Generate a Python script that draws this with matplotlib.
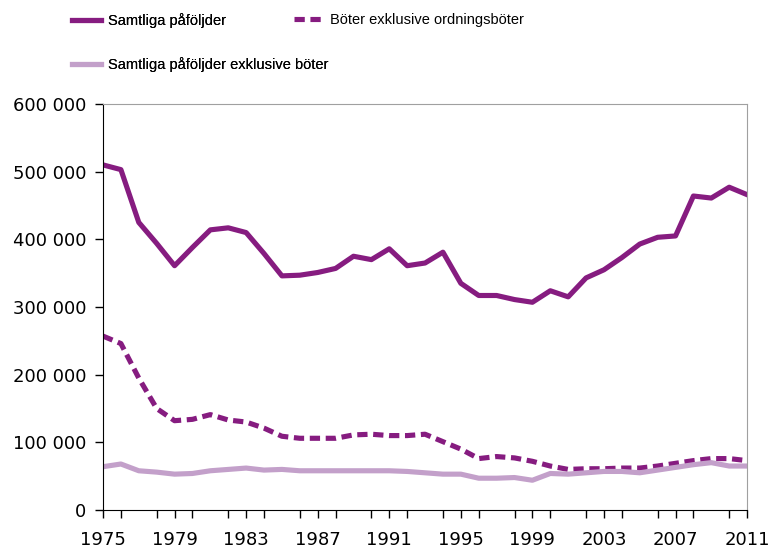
import numpy as np
import matplotlib
matplotlib.use('Agg')
import matplotlib.pyplot as plt
from matplotlib.ticker import FuncFormatter, MultipleLocator

plt.rcParams['font.family'] = ['Liberation Sans', 'DejaVu Sans']

# data
years = list(range(1975, 2012))
samtliga = [510000, 503000, 425000, 394000, 361000, 388000, 414000, 417000, 410000, 379000,
            346000, 347000, 351000, 357000, 375000, 370000, 386000, 361000, 365000, 381000,
            335000, 317000, 317000, 311000, 307000, 324000, 315000, 343000, 355000, 373000,
            393000, 403000, 405000, 464000, 461000, 477000, 466000]
boter = [257000, 246000, 195000, 150000, 132000, 134000, 141000, 133000, 130000, 121000,
         109000, 106000, 106000, 106000, 111000, 112000, 110000, 110000, 112000, 101000,
         90000, 76000, 79000, 77000, 72000, 65000, 60000, 61000, 61000, 62000,
         62000, 65000, 69000, 73000, 76000, 76000, 73000]
exkl_boter = [64000, 68000, 58000, 56000, 53000, 54000, 58000, 60000, 62000, 59000,
              60000, 58000, 58000, 58000, 58000, 58000, 58000, 57000, 55000, 53000,
              53000, 47000, 47000, 48000, 44000, 54000, 53000, 55000, 57000, 57000,
              55000, 59000, 63000, 67000, 70000, 65000, 65000]
labels = ['Samtliga påföljder', 'Böter exklusive ordningsböter',
          'Samtliga påföljder exklusive böter']

dark = '#861C80'
light = '#C3A0CA'

fig = plt.figure(figsize=(7.71, 5.49), dpi=100)
ax = fig.add_axes([0.1336, 0.071, 0.8354, 0.7396])

l1, = ax.plot(years, samtliga, color=dark, lw=3.7)
l2, = ax.plot(years, boter, color=dark, lw=3.7, ls=(0, (2, 1.1)))
l3, = ax.plot(years, exkl_boter, color=light, lw=3.7)

ax.set_xlim(1975, 2011)
ax.set_ylim(0, 600000)
ax.yaxis.set_major_locator(MultipleLocator(100000))
ax.yaxis.set_major_formatter(FuncFormatter(lambda v, p: f'{int(v):,}'.replace(',', ' ')))
ax.set_xticks(range(1975, 2012, 4))
ax.xaxis.set_minor_locator(MultipleLocator(2))
ax.tick_params(axis='both', which='major', labelsize=13, length=6, width=1, direction='out')
ax.tick_params(axis='x', which='minor', length=6, width=1, direction='out')
ax.tick_params(axis='x', pad=9)
ax.tick_params(axis='y', pad=6)
for lab in ax.get_xticklabels() + ax.get_yticklabels():
    lab.set_family('DejaVu Sans')

for s in ['top', 'right']:
    ax.spines[s].set_color('#A0A0A0')
for s in ['left', 'bottom']:
    ax.spines[s].set_color('black')

legfont = {'size': 10.5}
leg1 = fig.legend([l1, l3], [labels[0], labels[2]],
                  loc='upper left', bbox_to_anchor=(0.076, 1.0),
                  frameon=False, prop=legfont, handlelength=2.0,
                  labelspacing=2.0, handletextpad=0.5)
fig.add_artist(leg1)
fig.legend([l2], [labels[1]],
           loc='upper left', bbox_to_anchor=(0.364, 1.0),
           frameon=False, prop=legfont, handlelength=2.0, handletextpad=0.5)

fig.savefig('out.png', dpi=100)
